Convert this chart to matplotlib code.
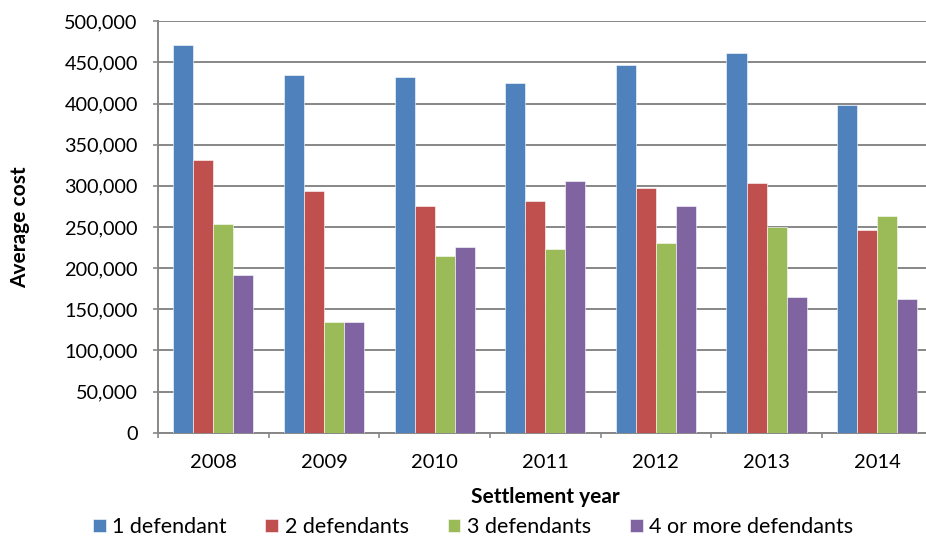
import matplotlib.pyplot as plt
import numpy as np
from matplotlib.ticker import FuncFormatter, FixedLocator

years = ['2008', '2009', '2010', '2011', '2012', '2013', '2014']
one_def = [471000, 435000, 432000, 425000, 447000, 462000, 398000]
two_def = [332000, 294000, 276000, 282000, 298000, 303000, 246000]
three_def = [254000, 134000, 215000, 223000, 231000, 250000, 263000]
four_plus = [192000, 134000, 226000, 306000, 276000, 165000, 162000]

series = [
    ('1 defendant', one_def, '#4F81BD'),
    ('2 defendants', two_def, '#C0504D'),
    ('3 defendants', three_def, '#9BBB59'),
    ('4 or more defendants', four_plus, '#8064A2'),
]

plt.rcParams['font.family'] = ['Lato', 'DejaVu Sans']

fig = plt.figure(figsize=(9.26, 5.37), dpi=100)
# right edge sits slightly past the figure edge, as in the reference
ax = fig.add_axes([158 / 926, 1 - 432.7 / 537, 774.5 / 926, 411.4 / 537])

x = np.arange(len(years))
w = 0.181
for i, (name, vals, col) in enumerate(series):
    ax.bar(x + (i - 1.5) * w, vals, width=w, color=col, label=name,
           edgecolor='white', linewidth=0.4, zorder=3)

ax.set_xlim(-0.5, len(years) - 0.5)
ax.set_ylim(0, 500000)
ax.set_yticks(np.arange(0, 500001, 50000))
ax.yaxis.set_major_formatter(FuncFormatter(lambda v, p: f'{int(v):,}'))
ax.grid(axis='y', color='#878787', linewidth=1.4, zorder=0)

ax.set_xticks(x)
ax.set_xticklabels(years)
ax.xaxis.set_minor_locator(FixedLocator(np.arange(-0.5, len(years), 1)))
ax.tick_params(axis='x', which='major', length=0, pad=15, labelsize=14.5)
ax.tick_params(axis='x', which='minor', length=3.6, width=1.2, color='#878787', direction='out')
ax.tick_params(axis='y', length=3.6, width=1.2, color='#878787', direction='out', labelsize=14.3, pad=11)

for s in ['top', 'right']:
    ax.spines[s].set_visible(False)
for s in ['left', 'bottom']:
    ax.spines[s].set_color('#878787')
    ax.spines[s].set_linewidth(1.4)

ax.set_ylabel('Average cost', fontsize=15, fontweight='bold', va='center')
ax.yaxis.set_label_coords((20 - 158) / 774.5, 0.5)
ax.set_xlabel('Settlement year', fontsize=15, fontweight='bold', va='center')
ax.xaxis.set_label_coords(0.5, (432.7 - 497) / 411.4)

fig.legend(loc='center', bbox_to_anchor=(473 / 926, 1 - 527 / 537), ncol=4,
           frameon=False, fontsize=15.5, handlelength=0.6, handleheight=0.6,
           handletextpad=0.3, columnspacing=1.8, borderpad=0)

fig.savefig('out.png', dpi=100)
